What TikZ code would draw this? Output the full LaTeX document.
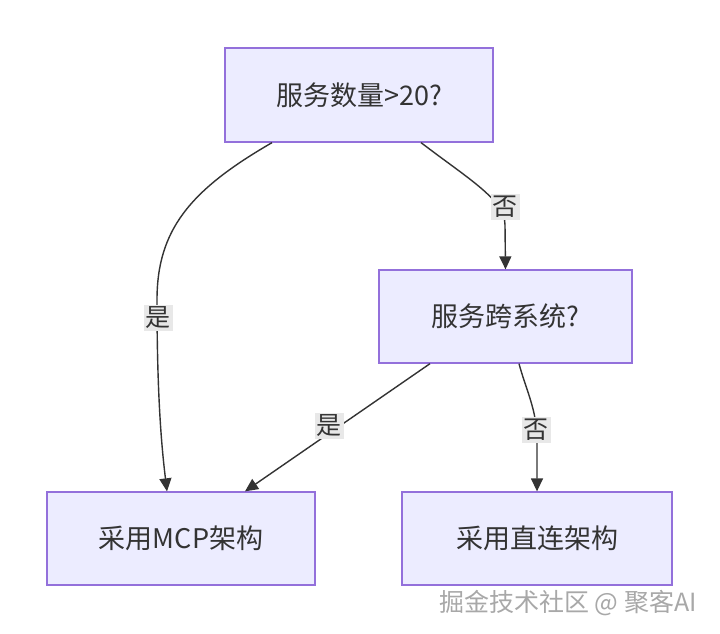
\documentclass[tikz,border=0pt]{standalone}
\usepackage{fontspec}
\setmainfont{Noto Sans CJK SC}
\usetikzlibrary{arrows.meta}
\definecolor{boxfill}{HTML}{ECECFF}
\definecolor{boxline}{HTML}{9370DB}
\definecolor{ink}{HTML}{333333}
\definecolor{lblbg}{HTML}{E8E8E8}
\definecolor{wmgray}{HTML}{A8A8A8}
\tikzset{
  box/.style={draw=boxline, fill=boxfill, line width=1.3pt, inner sep=0pt, text=ink, font=\fontsize{27}{32}\selectfont},
  conn/.style={draw=ink, line width=1.4pt, -{Triangle[length=13pt,width=12pt]}},
  lbl/.style={fill=lblbg, text=ink, inner sep=2pt, font=\fontsize{25}{30}\selectfont},
  wmark/.style={font=\fontsize{25}{30}\selectfont, anchor=east, text=wmgray},
}
\begin{document}
\begin{tikzpicture}[x=1pt,y=-1pt]
\useasboundingbox[fill=white] (0,0) rectangle (720,634);
\node[box, minimum width=268pt, minimum height=94pt] (A) at (359,95) {服务数量>20?};
\node[box, minimum width=253pt, minimum height=93pt] (B) at (505.5,316.5) {服务跨系统?};
\node[box, minimum width=268pt, minimum height=93pt] (C) at (181,538.5) {采用MCP架构};
\node[box, minimum width=270pt, minimum height=93pt] (D) at (537,538.5) {采用直连架构};
% A -> C
\draw[conn] ([xshift=-87pt]A.south) .. controls (190,190) and (157,230) .. (157,300)
  .. controls (157,400) and (162,450) .. ([xshift=-14pt]C.north);
\node[lbl] (l1) at (158,318) {是};
% A -> B
\draw[conn] ([xshift=62pt]A.south) .. controls (470,180) and (505,200) .. (505,225) -- (B.north);
\node[lbl] (l2) at (505,207) {否};
% B -> C
\draw[conn] ([xshift=-75.5pt]B.south) -- ([xshift=64pt]C.north);
\node[lbl] (l3) at (329,426) {是};
% B -> D
\draw[conn] ([xshift=13.5pt]B.south) .. controls (526,390) and (537,410) .. (537,440) -- (D.north);
\node[lbl] (l4) at (536,430) {否};
% watermark
\node[wmark] (wm) at (700.2,603.2) {掘金技术社区 @ 聚客AI};
\end{tikzpicture}
\end{document}
